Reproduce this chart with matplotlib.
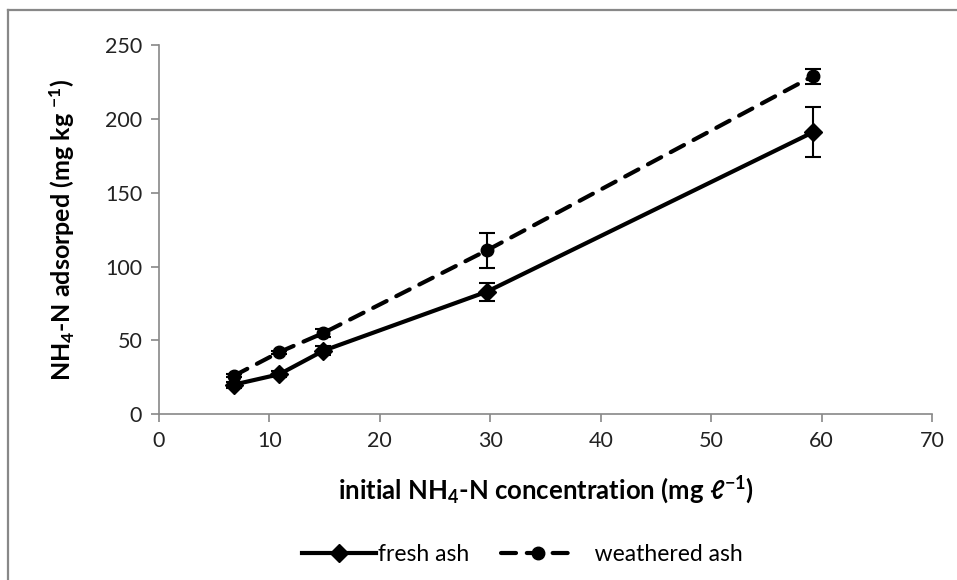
import matplotlib.pyplot as plt
from matplotlib.lines import Line2D

# данные
conc = [6.8, 10.9, 14.9, 29.7, 59.2]
fresh = [20, 27, 43, 83, 191]
fresh_err = [2, 2, 3, 6, 17]
weathered = [26, 42, 55, 111, 229]
weathered_err = [1, 1, 3, 12, 5]
xticks = [0, 10, 20, 30, 40, 50, 60, 70]
yticks = [0, 50, 100, 150, 200, 250]

plt.rcParams['font.family'] = ['Lato', 'DejaVu Sans']
plt.rcParams['mathtext.fontset'] = 'custom'
plt.rcParams['mathtext.bf'] = 'Lato:bold'
plt.rcParams['mathtext.rm'] = 'Lato:bold'
plt.rcParams['mathtext.default'] = 'bf'

fig = plt.figure(figsize=(9.57, 5.8), dpi=100)
ax = fig.add_axes([0.166, 0.286, 0.808, 0.636])

# рамка диаграммы: видны только верхняя и левая стороны
fig.add_artist(Line2D([8 / 957, 1], [1 - 10 / 580, 1 - 10 / 580], transform=fig.transFigure,
                      color='#888888', linewidth=1.6))
fig.add_artist(Line2D([8 / 957, 8 / 957], [0, 1 - 10 / 580], transform=fig.transFigure,
                      color='#888888', linewidth=1.6))

dash = (0, (3.6, 2.6))
lw = 3.0
ax.errorbar(conc, fresh, yerr=fresh_err, color='black', linewidth=lw,
            marker='D', markersize=9, capsize=6, elinewidth=1.5, capthick=1.5)
ax.errorbar(conc, weathered, yerr=weathered_err, color='black', linewidth=lw,
            linestyle=dash, dash_capstyle='round', marker='o', markersize=9,
            capsize=6, elinewidth=1.5, capthick=1.5)

ax.set_xlim(0, 70)
ax.set_ylim(0, 250)
ax.set_xticks(xticks)
ax.set_yticks(yticks)
ax.spines['top'].set_visible(False)
ax.spines['right'].set_visible(False)
for s in ['left', 'bottom']:
    ax.spines[s].set_color('#888888')
    ax.spines[s].set_linewidth(1.2)
ax.tick_params(colors='#888888', length=6, width=1.2, labelsize=15.5,
               labelcolor='#222222', pad=6)

ax.set_xlabel('initial NH$_4$-N concentration (mg \u2113$^{-1}$)', fontsize=18.5,
              fontweight='bold', labelpad=17)
ax.set_ylabel('NH$_4$-N adsorped (mg kg $^{-1}$)', fontsize=18,
              fontweight='bold', labelpad=20)

handles = [Line2D([], [], color='black', linewidth=lw, marker='D', markersize=9),
           Line2D([], [], color='black', linewidth=lw, linestyle=dash,
                  dash_capstyle='round', marker='o', markersize=9)]
fig.legend(handles, ['fresh ash', '   weathered ash'], loc='lower center',
           bbox_to_anchor=(0.546, -0.01), ncol=2, frameon=False, fontsize=16.5,
           handlelength=3.2, columnspacing=1.4, handletextpad=0.1)

fig.savefig('out.png', dpi=100)
